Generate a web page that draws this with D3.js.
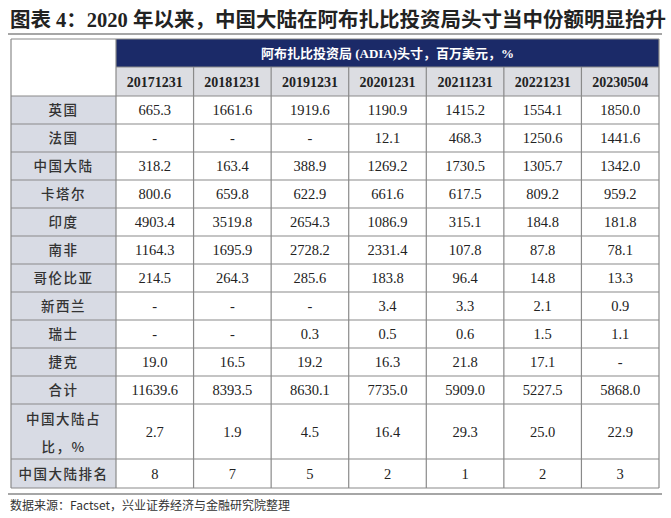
<!DOCTYPE html>
<html><head><meta charset="utf-8">
<script src="https://cdn.jsdelivr.net/npm/d3@7"></script>
<style>body{margin:0;background:#fff}</style>
</head><body>
<script>
var title="图表 4：2020 年以来，中国大陆在阿布扎比投资局头寸当中份额明显抬升"
var header="阿布扎比投资局 (ADIA)头寸，百万美元，%"
var dates=["20171231","20181231","20191231","20201231","20211231","20221231","20230504"]
var rowLabels=["英国","法国","中国大陆","卡塔尔","印度","南非","哥伦比亚","新西兰","瑞士","捷克","合计","中国大陆占比，%","中国大陆排名"]
var uk=["665.3","1661.6","1919.6","1190.9","1415.2","1554.1","1850.0"]
var france=["-","-","-","12.1","468.3","1250.6","1441.6"]
var china=["318.2","163.4","388.9","1269.2","1730.5","1305.7","1342.0"]
var qatar=["800.6","659.8","622.9","661.6","617.5","809.2","959.2"]
var india=["4903.4","3519.8","2654.3","1086.9","315.1","184.8","181.8"]
var safrica=["1164.3","1695.9","2728.2","2331.4","107.8","87.8","78.1"]
var colombia=["214.5","264.3","285.6","183.8","96.4","14.8","13.3"]
var nz=["-","-","-","3.4","3.3","2.1","0.9"]
var swiss=["-","-","0.3","0.5","0.6","1.5","1.1"]
var czech=["19.0","16.5","19.2","16.3","21.8","17.1","-"]
var total=["11639.6","8393.5","8630.1","7735.0","5909.0","5227.5","5868.0"]
var share=["2.7","1.9","4.5","16.4","29.3","25.0","22.9"]
var rank=["8","7","5","2","1","2","3"]
var rows=[uk,france,china,qatar,india,safrica,colombia,nz,swiss,czech,total,share,rank]
var heights=[28,28,28,28,28,28,28,28,28,28,28,55,29]

var svg=d3.select("body").append("svg").attr("width",671).attr("height",518)
var serif="'Liberation Serif','Times New Roman',serif", cjk="'Noto Sans CJK SC',sans-serif"

svg.append("text").attr("x",10).attr("y",27).attr("font-size",20.5).attr("font-weight","bold")
	.attr("font-family",serif+","+cjk).attr("fill","#222").text(title)
svg.append("line").attr("x1",8).attr("x2",662).attr("y1",34).attr("y2",34).attr("stroke","#888").attr("stroke-width",1.5)

var left=11,labelW=105,right=659
var x=d3.scaleBand().domain(dates).range([left+labelW,right])
var y0=96, ys=[y0]
heights.forEach(function(h,i){ys.push(ys[i]+h)})

// header
svg.append("rect").attr("x",left).attr("y",39).attr("width",right-left).attr("height",ys[ys.length-1]-39).attr("fill","#fff")
svg.append("rect").attr("x",x.range()[0]).attr("y",39).attr("width",right-x.range()[0]).attr("height",28).attr("fill","#1b2a68")
svg.append("text").attr("x",(x.range()[0]+right)/2).attr("y",58).attr("text-anchor","middle").attr("fill","#fff")
	.attr("font-size",13).attr("font-weight","bold").attr("font-family",serif+","+cjk).text(header)
svg.append("rect").attr("x",x.range()[0]).attr("y",67).attr("width",right-x.range()[0]).attr("height",29).attr("fill","#dcdde2")
svg.selectAll(".d").data(dates).enter().append("text").attr("x",function(d){return x(d)+x.bandwidth()/2}).attr("y",87)
	.attr("text-anchor","middle").attr("font-size",14).attr("font-weight","bold").attr("font-family",serif).attr("fill","#222").text(function(d){return d})

// label column
svg.append("rect").attr("x",left).attr("y",y0).attr("width",labelW).attr("height",ys[ys.length-1]-y0).attr("fill","#d8dbe4")

rows.forEach(function(r,i){
	var cy=(ys[i]+ys[i+1])/2
	var lab=rowLabels[i]
	var lt=svg.append("text").attr("x",left+labelW/2).attr("text-anchor","middle").attr("font-size",13.5).attr("font-weight",500)
		.attr("font-family",cjk).attr("fill","#333").attr("letter-spacing",1.5)
	if(i==11){
		lt.append("tspan").attr("x",left+labelW/2).attr("y",cy-8).text("中国大陆占")
		lt.append("tspan").attr("x",left+labelW/2).attr("y",cy+20).text("比，%")
	} else lt.attr("y",cy+5).text(lab)
	svg.selectAll(null).data(r).enter().append("text").attr("x",function(d,j){return x(dates[j])+x.bandwidth()/2}).attr("y",cy+5)
		.attr("text-anchor","middle").attr("font-size",14.5).attr("font-family",serif).attr("fill","#222").text(function(d){return d})
})

// grid
var g=svg.append("g").attr("stroke","#8a8a8a").attr("stroke-width",1.2)
ys.forEach(function(v){g.append("line").attr("x1",left).attr("x2",right).attr("y1",v).attr("y2",v)})
g.append("line").attr("x1",x.range()[0]).attr("x2",right).attr("y1",67).attr("y2",67)
g.append("line").attr("x1",left).attr("x2",right).attr("y1",39).attr("y2",39)
g.append("line").attr("x1",left).attr("x2",left).attr("y1",39).attr("y2",ys[ys.length-1])
g.append("line").attr("x1",right).attr("x2",right).attr("y1",39).attr("y2",ys[ys.length-1])
g.append("line").attr("x1",x.range()[0]).attr("x2",x.range()[0]).attr("y1",39).attr("y2",ys[ys.length-1])
dates.slice(1).forEach(function(d){g.append("line").attr("x1",x(d)).attr("x2",x(d)).attr("y1",67).attr("y2",ys[ys.length-1])})

svg.append("line").attr("x1",8).attr("x2",662).attr("y1",494).attr("y2",494).attr("stroke","#888").attr("stroke-width",1.5)
svg.append("text").attr("x",10).attr("y",510).attr("font-size",12).attr("font-family",cjk).attr("fill","#333").text("数据来源：Factset，兴业证券经济与金融研究院整理")
</script>
</body></html>
